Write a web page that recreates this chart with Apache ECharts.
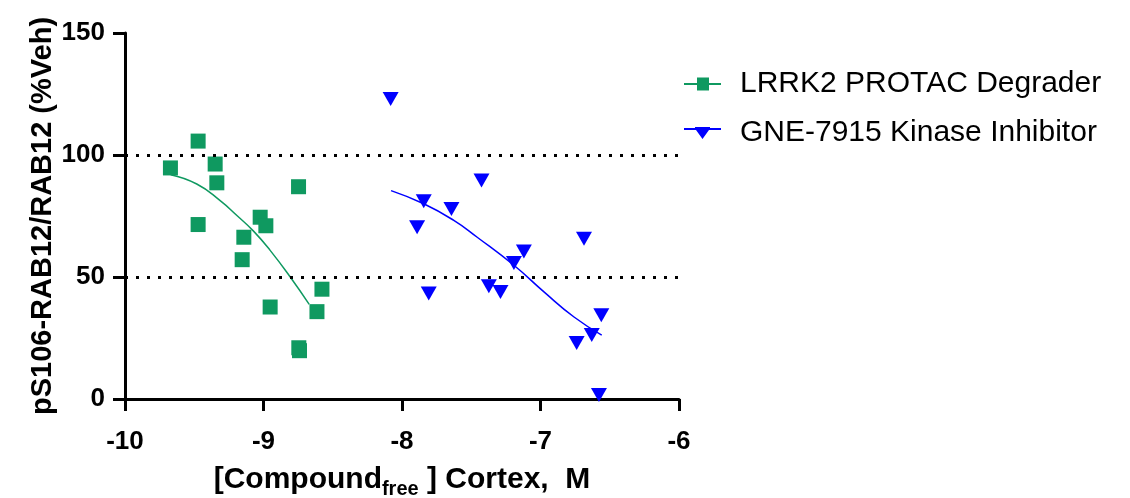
<!DOCTYPE html>
<html>
<head>
<meta charset="utf-8">
<script src="https://cdn.jsdelivr.net/npm/echarts@6/dist/echarts.min.js"></script>
<style>
  html, body { margin: 0; padding: 0; background: #fff; }
  #chart { width: 1130px; height: 498px; }
</style>
</head>
<body>
<div id="chart"></div>
<script>
// data (x = log10 conc, y = %Veh)
var protacPts = [
  [-9.672, 94.7], [-9.472, 105.7], [-9.472, 71.5], [-9.349, 96.3], [-9.337, 88.6],
  [-9.024, 74.5], [-8.983, 71.0], [-9.142, 66.3], [-9.154, 57.1], [-8.747, 87.0],
  [-8.578, 45.0], [-8.952, 37.7], [-8.614, 35.8], [-8.745, 21.0], [-8.740, 19.8]
];
var protacFit = [
  [-9.67, 91.9], [-9.482, 88.1], [-9.313, 81.3], [-9.192, 75.2], [-9.072, 68.8],
  [-8.952, 60.9], [-8.807, 50.0], [-8.670, 38.8]
];
var gnePts = [
  [-8.082, 122.9], [-7.426, 89.5], [-7.843, 81.0], [-7.643, 77.9], [-7.891, 70.4],
  [-6.686, 65.7], [-7.120, 60.5], [-7.192, 55.7], [-7.807, 43.2], [-7.373, 46.2],
  [-7.289, 43.9], [-6.561, 34.3], [-6.630, 26.2], [-6.739, 23.0], [-6.578, 1.6]
];
var gneFit = [
  [-8.079, 85.4], [-7.843, 80.0], [-7.626, 73.2], [-7.457, 66.3], [-7.192, 54.8],
  [-6.975, 43.9], [-6.758, 33.6], [-6.558, 26.2]
];
var refLines = [100, 50];
var names = ['LRRK2 PROTAC Degrader', 'GNE-7915 Kinase Inhibitor'];

var GREEN = '#0f9960';
var BLUE = '#0000ff';
var FONT = 'Liberation Sans, Arial, sans-serif';

var chart = echarts.init(document.getElementById('chart'));
chart.setOption({
  animation: false,
  textStyle: { fontFamily: FONT },
  grid: { left: 125, right: 451, top: 33, bottom: 99, outerBoundsMode: 'none', containLabel: false },
  legend: {
    left: 679, top: 62, orient: 'vertical',
    itemWidth: 37, itemHeight: 15, itemGap: 15,
    textStyle: { fontSize: 30, lineHeight: 34, color: '#000', fontFamily: FONT, padding: [0, 0, 0, 14] },
    data: [
      { name: names[0], icon: 'path://M0,6.5 L13,6.5 L13,1 L25,1 L25,6.5 L37,6.5 L37,8.5 L25,8.5 L25,14 L13,14 L13,8.5 L0,8.5 Z' },
      { name: names[1], icon: 'path://M0,3 L11,3 L11,2 L26,2 L26,3 L37,3 L37,5 L25,5 L18.5,14 L12,5 L0,5 Z' }
    ]
  },
  xAxis: {
    type: 'value', min: -10, max: -6, interval: 1,
    axisLine: { onZero: false, lineStyle: { color: '#000', width: 3 } },
    axisTick: { length: 12, lineStyle: { color: '#000', width: 3 } },
    axisLabel: { color: '#000', fontSize: 26, fontWeight: 'bold', margin: 30 },
    splitLine: { show: false },
    name: '{a|[Compound}{s|free}{a| ] Cortex,  M}',
    nameLocation: 'middle', nameGap: 62,
    nameTextStyle: {
      rich: {
        a: { fontSize: 30, fontWeight: 'bold', color: '#000', fontFamily: FONT },
        s: { fontSize: 20, fontWeight: 'bold', color: '#000', fontFamily: FONT, padding: [18, 0, 0, 0] }
      }
    }
  },
  yAxis: {
    type: 'value', min: 0, max: 150, interval: 50,
    axisLine: { onZero: false, lineStyle: { color: '#000', width: 3 } },
    axisTick: { length: 12, lineStyle: { color: '#000', width: 3 } },
    axisLabel: { color: '#000', fontSize: 26, fontWeight: 'bold', margin: 20 },
    splitLine: { show: false },
    name: 'pS106-RAB12/RAB12 (%Veh)',
    nameLocation: 'middle', nameGap: 68,
    nameTextStyle: { fontSize: 29, fontWeight: 'bold', color: '#000' }
  },
  series: [
    {
      name: names[0], type: 'scatter', data: protacPts, z: 3,
      symbol: 'rect', symbolSize: 15, itemStyle: { color: GREEN, opacity: 1 },
      markLine: {
        silent: true, symbol: 'none', label: { show: false },
        lineStyle: { color: '#000', width: 3, type: [3, 8] },
        data: refLines.map(function (v) { return { yAxis: v }; })
      }
    },
    {
      name: names[0], type: 'line', data: protacFit, smooth: true, showSymbol: false,
      lineStyle: { color: GREEN, width: 1.5 }, itemStyle: { color: GREEN }
    },
    {
      name: names[1], type: 'scatter', data: gnePts, z: 3,
      symbol: 'triangle', symbolRotate: 180, symbolSize: [16, 14], itemStyle: { color: BLUE, opacity: 1 }
    },
    {
      name: names[1], type: 'line', data: gneFit, smooth: true, showSymbol: false,
      lineStyle: { color: BLUE, width: 1.5 }, itemStyle: { color: BLUE }
    }
  ]
});
</script>
</body>
</html>
